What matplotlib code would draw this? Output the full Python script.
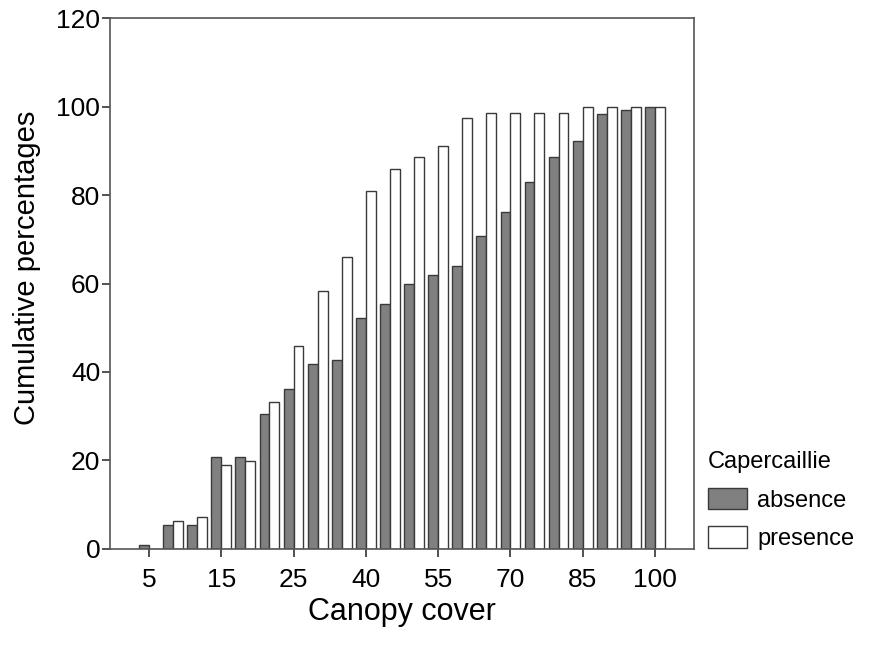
import numpy as np
import matplotlib
matplotlib.use("Agg")
import matplotlib.pyplot as plt

plt.rcParams['font.family'] = ['Liberation Sans', 'DejaVu Sans']

# canopy cover classes (only every third one is labelled on the axis)
cover = ["5", "8", "10", "15", "18", "20", "25", "30", "35", "40", "45",
         "50", "55", "60", "65", "70", "75", "80", "85", "90", "95", "100"]
absence = [0.9, 5.4, 5.4, 20.9, 20.9, 30.5, 36.1, 41.9, 42.8, 52.3, 55.3,
           60.0, 62.0, 63.9, 70.7, 76.1, 83.0, 88.7, 92.3, 98.2, 99.2, 100]
presence = [0, 6.4, 7.3, 19.0, 19.9, 33.2, 45.9, 58.4, 66.0, 81.0, 85.9,
            88.7, 91.1, 97.5, 98.6, 98.6, 98.6, 98.6, 100, 100, 100, 100]

fig = plt.figure(figsize=(8.77, 6.48), dpi=100)
ax = fig.add_axes([0.1254, 0.1528, 0.6659, 0.8194])

x = np.arange(len(cover))
w = 0.41
edge = "#3a3a3a"
ax.bar(x - w/2, absence, w, color="#808080", edgecolor=edge, linewidth=1.0, label="absence")
ax.bar(x + w/2, presence, w, color="white", edgecolor=edge, linewidth=1.0, label="presence")

ax.set_xlim(-1.62, len(cover) - 1 + 1.62)
ax.set_ylim(0, 120)
ax.set_yticks(range(0, 121, 20))
ax.set_xticks(x[::3])
ax.set_xticklabels(cover[::3])

for s in ax.spines.values():
    s.set_color("#555555")
    s.set_linewidth(1.2)
ax.tick_params(axis="both", labelsize=19, length=6, width=1.2, color="#333333", pad=1)
ax.tick_params(axis="x", pad=8)

ax.set_xlabel("Canopy cover", fontsize=22, labelpad=3)
ax.set_ylabel("Cumulative percentages", fontsize=21)
ax.yaxis.set_label_coords(-0.118, 0.529)

leg = fig.legend(loc="upper left", bbox_to_anchor=(0.7966, 0.318), title="Capercaillie",
                 frameon=False, fontsize=17, title_fontsize=17, alignment="left",
                 handlelength=1.65, handleheight=1.05, handletextpad=0.42,
                 labelspacing=0.6, borderaxespad=0)

fig.savefig("out.png", dpi=100)
